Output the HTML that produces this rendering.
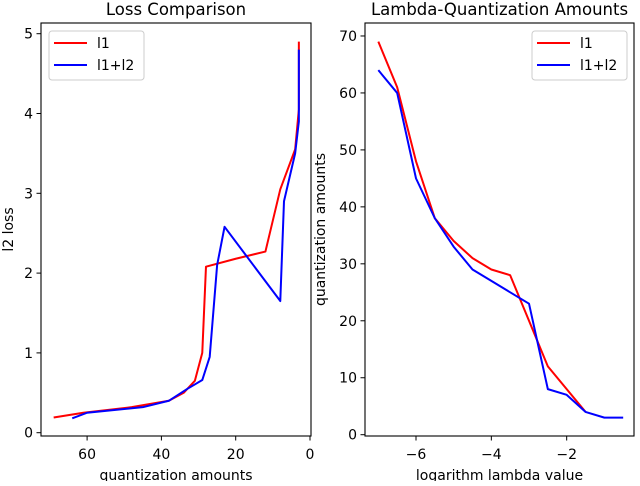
<!DOCTYPE html>
<html><head><meta charset="utf-8"><style>
body{margin:0;background:#fff;}
svg text{font-family:"DejaVu Sans","Liberation Sans",sans-serif;fill:#000;}
</style></head><body>
<svg id="c" width="640" height="481" xmlns="http://www.w3.org/2000/svg"></svg>
<script>
// Left plot data
const lossRedX = [69,61,48,38,34,31,29,28,20,12,8,4,3,3];
const lossRedY = [0.19,0.25,0.32,0.4,0.5,0.65,1.0,2.08,2.18,2.27,3.05,3.55,4.05,4.9];
const lossBlueX = [64,60,45,38,33,29,27,25,23,8,7,4,3,3];
const lossBlueY = [0.18,0.25,0.32,0.4,0.55,0.66,0.95,2.1,2.58,1.65,2.9,3.5,3.9,4.8];
const leftXTicks = [60,40,20,0];
const leftYTicks = [0,1,2,3,4,5];
// Right plot data
const lamRedX = [-7,-6.5,-6,-5.5,-5,-4.5,-4,-3.5,-3,-2.5,-2,-1.5];
const lamRedY = [69,61,48,38,34,31,29,28,20,12,8,4];
const lamBlueX = [-7,-6.5,-6,-5.5,-5,-4.5,-4,-3.5,-3,-2.5,-2,-1.5,-1,-0.5];
const lamBlueY = [64,60,45,38,33,29,27,25,23,8,7,4,3,3];
const rightXTicks = [-6,-4,-2];
const rightYTicks = [0,10,20,30,40,50,60,70];

const svg=document.getElementById('c');
const NS='http://www.w3.org/2000/svg';
function mk(tag,attrs,parent){const e=document.createElementNS(NS,tag);for(const k in attrs)e.setAttribute(k,attrs[k]);(parent||svg).appendChild(e);return e;}

function panel(o){
  const g=mk('g',{});
  
  
  const sx=v=>o.x0px+(v-o.x0v)*o.xs;
  const sy=v=>o.y0px-(v-o.y0v)*o.ys;
  o.series.forEach(s=>{
    const p=mk('polyline',{points:s.x.map((v,i)=>sx(v)+','+sy(s.y[i])).join(' '),fill:'none',stroke:s.color,'stroke-width':2,'stroke-linejoin':'round'},g);
    
    
  });
  const fr=mk('rect',{x:o.L,y:o.T,width:o.R-o.L,height:o.B-o.T,fill:'none',stroke:'#000','stroke-width':1.1},g);
  
  
  o.xt.forEach(v=>{
    const x=sx(v);
    mk('line',{x1:x,x2:x,y1:o.B,y2:o.B+4.5,stroke:'#000','stroke-width':1},g);
    const t=mk('text',{x:x,y:o.B+23,'text-anchor':'middle','font-size':14},g);
    t.textContent=v<0?'\u2212'+(-v):v;
    
    
  });
  o.yt.forEach(v=>{
    const y=sy(v);
    mk('line',{x1:o.L-4.5,x2:o.L,y1:y,y2:y,stroke:'#000','stroke-width':1},g);
    const t=mk('text',{x:o.L-8,y:y+5,'text-anchor':'end','font-size':14},g);
    t.textContent=v;
    
    
  });
  const ti=mk('text',{x:(o.L+o.R)/2,y:15,'text-anchor':'middle','font-size':16.5},g);
  ti.textContent=o.title;
  
  
  const xl=mk('text',{x:(o.L+o.R)/2,y:480,'text-anchor':'middle','font-size':14},g);
  xl.textContent=o.xlabel;
  
  
  const yl=mk('text',{x:0,y:0,'text-anchor':'middle','font-size':14,transform:'translate('+o.ylx+','+((o.T+o.B)/2)+') rotate(-90)'},g);
  yl.textContent=o.ylabel;
  
  
  const lg=mk('g',{},g);
  
  
  mk('rect',{x:o.lx,y:31,width:o.lw,height:49,rx:3,fill:'#fff','fill-opacity':0.8,stroke:'#ccc','stroke-width':1},lg);
  o.series.forEach((s,i)=>{
    const y=43+i*22;
    mk('line',{x1:o.lx+5,x2:o.lx+38,y1:y,y2:y,stroke:s.color,'stroke-width':2},lg);
    const t=mk('text',{x:o.lx+48,y:y+5,'font-size':14},lg);
    t.textContent=s.label;
    
    
  });
}

panel({name:'loss-comparison-panel',L:41,R:311,T:23,B:436,
  x0px:310,x0v:0,xs:-3.715,y0px:432.7,y0v:0,ys:79.8,
  xt:leftXTicks,yt:leftYTicks,title:'Loss Comparison',xlabel:'quantization amounts',ylabel:'l2 loss',ylx:13,
  lx:49,lw:95,
  series:[{x:lossRedX,y:lossRedY,color:'#ff0000',label:'l1',name:'series-l1'},
          {x:lossBlueX,y:lossBlueY,color:'#0000ff',label:'l1+l2',name:'series-l1-l2'}]});
panel({name:'lambda-quantization-panel',L:365,R:634,T:23,B:436,
  x0px:416,x0v:-6,xs:37.67,y0px:434.7,y0v:0,ys:5.696,
  xt:rightXTicks,yt:rightYTicks,title:'Lambda-Quantization Amounts',xlabel:'logarithm lambda value',ylabel:'quantization amounts',ylx:325,
  lx:532,lw:95,
  series:[{x:lamRedX,y:lamRedY,color:'#ff0000',label:'l1',name:'series-l1'},
          {x:lamBlueX,y:lamBlueY,color:'#0000ff',label:'l1+l2',name:'series-l1-l2'}]});
</script>
</body></html>
